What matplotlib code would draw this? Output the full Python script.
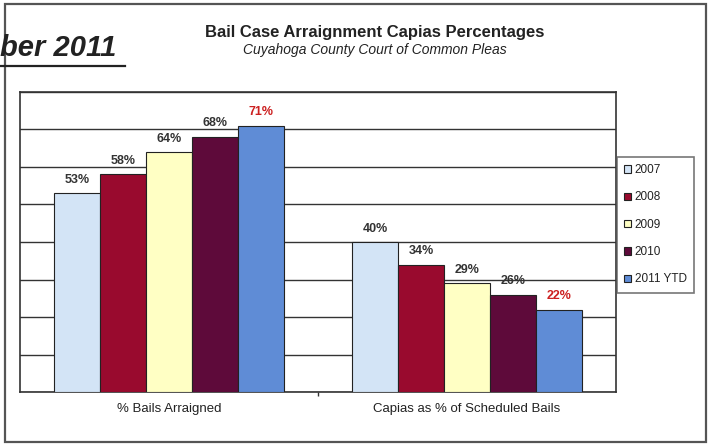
import matplotlib
matplotlib.use("Agg")
import matplotlib.pyplot as plt
from matplotlib.patches import Rectangle
from matplotlib.lines import Line2D
import numpy as np

categories = ["% Bails Arraigned", "Capias as % of Scheduled Bails"]
years = ["2007", "2008", "2009", "2010", "2011 YTD"]
pct_2007 = [53, 40]
pct_2008 = [58, 34]
pct_2009 = [64, 29]
pct_2010 = [68, 26]
pct_2011 = [71, 22]
series = [pct_2007, pct_2008, pct_2009, pct_2010, pct_2011]

colors = ["#d3e4f6", "#990a2e", "#ffffc4", "#5e0a3a", "#5f8cd6"]
label_colors = ["#333333", "#333333", "#333333", "#333333", "#cc2020"]

plt.rcParams["font.family"] = ["Liberation Sans", "DejaVu Sans"]

W, H = 713, 444
fig = plt.figure(figsize=(W / 100, H / 100), dpi=100)

# outer page frame
fig.add_artist(Rectangle((5 / W, 1 - 442 / H), 701 / W, 438 / H, transform=fig.transFigure,
                         fill=False, edgecolor="#555555", linewidth=1.6))

ax = fig.add_axes([20 / W, 1 - 392 / H, 596 / W, 300 / H])

x = np.arange(len(categories))
width = 0.154
for i, (vals, name) in enumerate(zip(series, years)):
    pos = x + (i - 2) * width
    ax.bar(pos, vals, width, color=colors[i], edgecolor="#222222", linewidth=0.8,
           label=name, zorder=3)
    for p, v in zip(pos, vals):
        ax.text(p, v + 2.0, f"{v}%", ha="center", va="bottom", fontsize=9,
                fontweight="bold", color=label_colors[i], zorder=4)

ax.set_xlim(-0.5, 1.5)
ax.set_ylim(0, 80)
ax.set_yticks(np.arange(0, 81, 10))
ax.yaxis.grid(True, color="#333333", linewidth=1.0, zorder=0)
ax.tick_params(axis="y", length=0, labelleft=False)
ax.set_xticks(x)
ax.set_xticklabels(categories, fontsize=9.5)
ax.tick_params(axis="x", length=0, pad=8, colors="#222222")
ax.set_xticks([0.5], minor=True)
ax.tick_params(axis="x", which="minor", length=3, width=1, color="#333333")
for s in ax.spines.values():
    s.set_color("#333333")
    s.set_linewidth(1.2)

leg = fig.legend(loc="upper left", bbox_to_anchor=(617 / W, 1 - 157 / H),
                 fontsize=8.5, frameon=True, fancybox=False, handlelength=0.6,
                 handleheight=0.6, handletextpad=0.3, labelspacing=1.3,
                 borderpad=0.6, borderaxespad=0)
leg.get_frame().set_edgecolor("#555555")
leg.get_frame().set_linewidth(1.2)
for t in leg.get_texts():
    t.set_color("#222222")

fig.text(375 / W, 1 - 33 / H, "Bail Case Arraignment Capias Percentages",
         ha="center", va="center", fontsize=12, fontweight="bold", color="#222222")
fig.text(375 / W, 1 - 50 / H, "Cuyahoga County Court of Common Pleas",
         ha="center", va="center", fontsize=10, style="italic", color="#222222")
fig.text(0 / W, 1 - 48 / H, "ber 2011", ha="left", va="center", fontsize=21,
         fontweight="bold", style="italic", color="#222222")
fig.add_artist(Line2D([0, 125 / W], [1 - 66 / H, 1 - 66 / H], transform=fig.transFigure,
                      color="#222222", linewidth=1.6))

fig.savefig("out.png", dpi=100)
